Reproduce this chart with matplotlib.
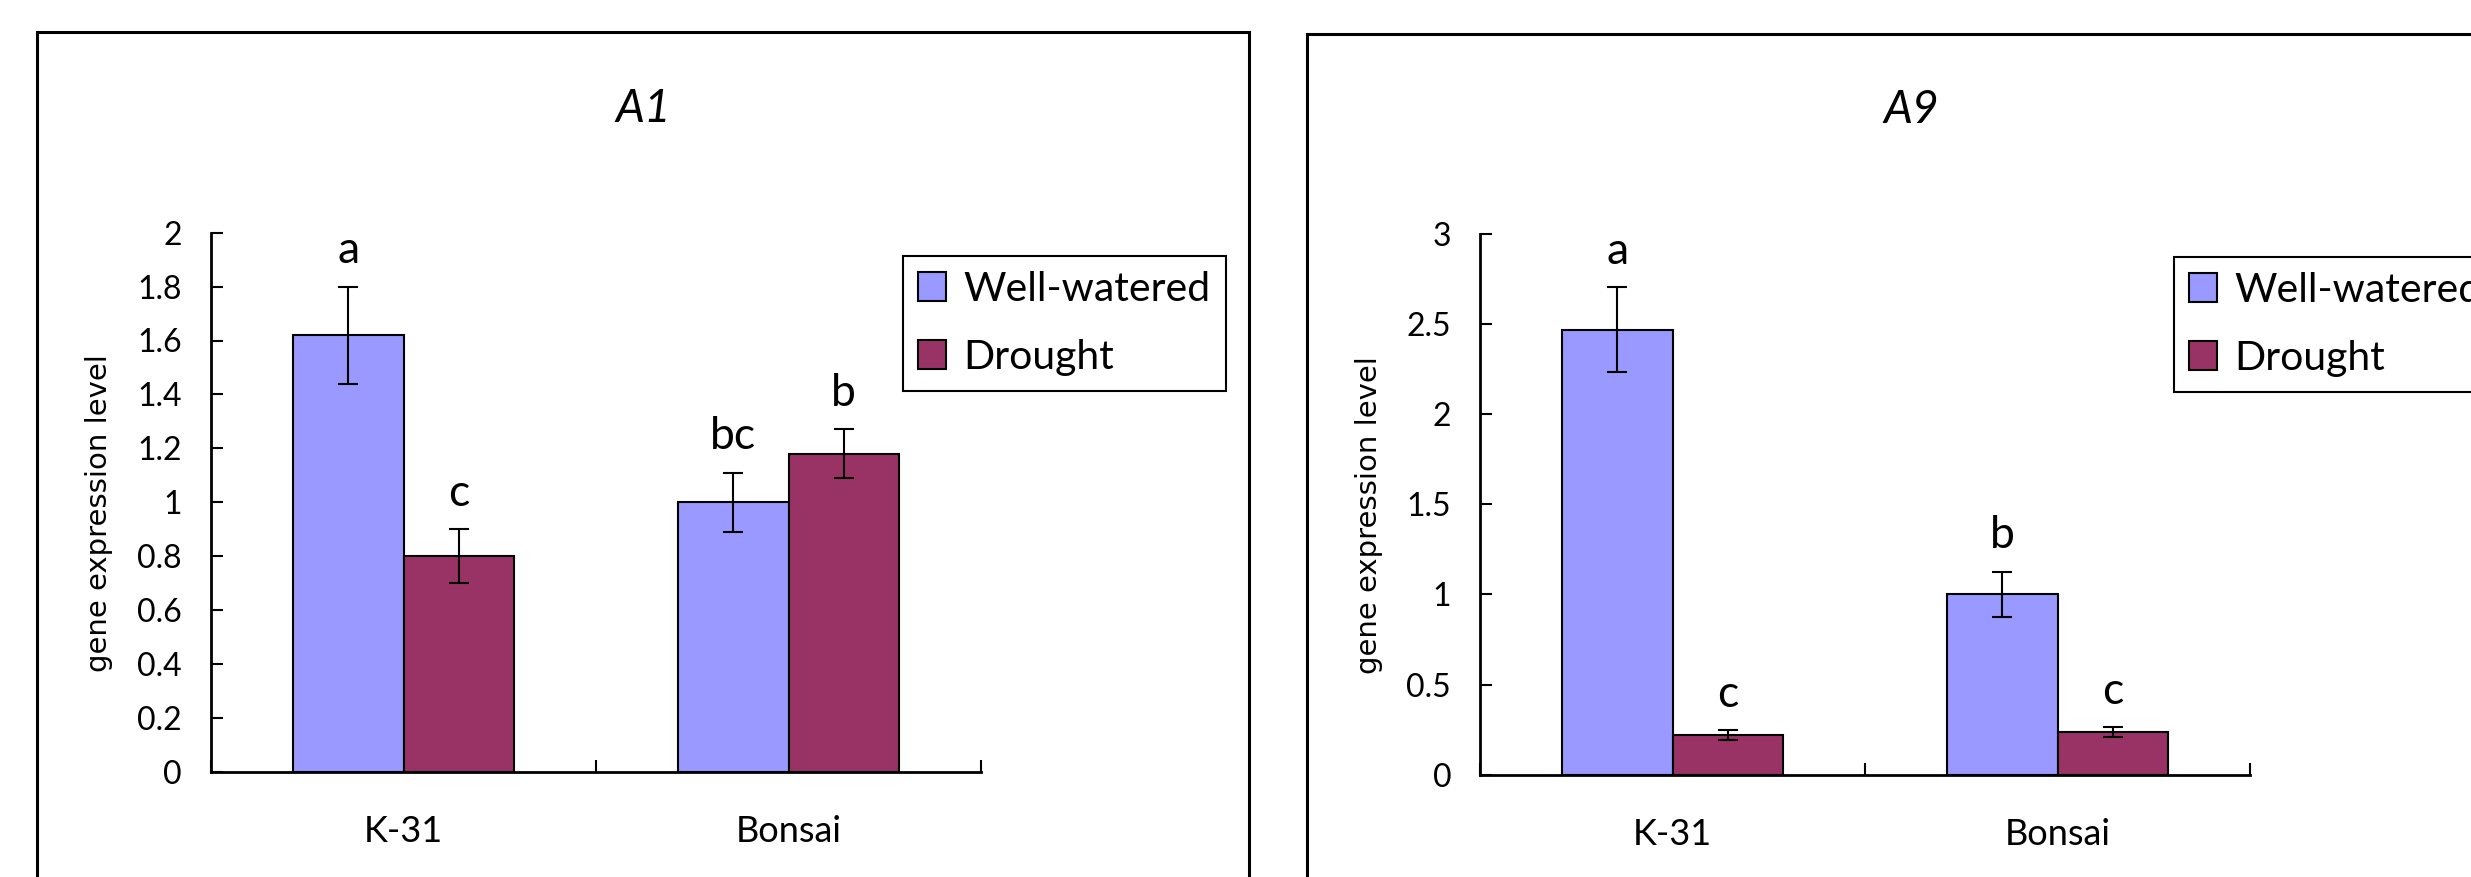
import matplotlib
matplotlib.use("Agg")
import matplotlib.pyplot as plt
from matplotlib.patches import Rectangle, Patch
import numpy as np

# data: relative gene expression, two genes, two cultivars
categories = ["K-31", "Bonsai"]
series_names = ["Well-watered", "Drought"]
series_colors = ["#9999FF", "#993366"]

a1_well = [1.62, 1.00]
a1_well_err = [0.18, 0.11]
a1_drought = [0.80, 1.18]
a1_drought_err = [0.10, 0.09]
a1_well_letters = ["a", "bc"]
a1_drought_letters = ["c", "b"]
a1_yticks = [0, 0.2, 0.4, 0.6, 0.8, 1.0, 1.2, 1.4, 1.6, 1.8, 2.0]

a9_well = [2.47, 1.00]
a9_well_err = [0.235, 0.125]
a9_drought = [0.22, 0.235]
a9_drought_err = [0.027, 0.028]
a9_well_letters = ["a", "b"]
a9_drought_letters = ["c", "c"]
a9_yticks = [0, 0.5, 1.0, 1.5, 2.0, 2.5, 3.0]

plt.rcParams["font.family"] = ["Lato", "DejaVu Sans"]

W, H = 2471, 877
fig = plt.figure(figsize=(W / 100, H / 100), dpi=100)


def px_box(x0, y0, x1, y1):
    # pixel box (top-left origin) -> figure fraction [left, bottom, width, height]
    return [x0 / W, 1 - y1 / H, (x1 - x0) / W, (y1 - y0) / H]


def draw_panel(frame, axbox, title_xy, legend_xy, title,
               well, well_err, drought, drought_err,
               well_letters, drought_letters, yticks):
    # outer frame of the panel
    fx0, fy0, fx1, fy1 = frame
    b = px_box(fx0, fy0, fx1, fy1)
    fig.add_artist(Rectangle((b[0], b[1]), b[2], b[3], transform=fig.transFigure,
                             fill=False, edgecolor="black", linewidth=2.2, clip_on=False))

    fig.text(title_xy[0] / W, 1 - title_xy[1] / H, title, fontsize=33,
             style="italic", ha="center", va="baseline")

    ax = fig.add_axes(px_box(*axbox))
    x = np.arange(len(categories))
    w = 0.287
    for vals, errs, letters, off, color, name in [
        (well, well_err, well_letters, -w / 2, series_colors[0], series_names[0]),
        (drought, drought_err, drought_letters, w / 2, series_colors[1], series_names[1]),
    ]:
        ax.bar(x + off, vals, w, color=color, edgecolor="black", linewidth=1.5,
               label=name, zorder=2)
        ax.errorbar(x + off, vals, yerr=errs, fmt="none", ecolor="black",
                    elinewidth=1.5, capsize=7.5, capthick=1.5, zorder=3)
        for xi, v, e, lab in zip(x + off, vals, errs, letters):
            ax.annotate(lab, (xi, v + e), xytext=(0, 17), textcoords="offset points",
                        ha="center", va="baseline", fontsize=32)

    ax.set_xlim(-0.5, len(categories) - 0.5)
    ax.set_ylim(yticks[0], yticks[-1])
    ax.set_yticks(yticks)
    ax.set_yticklabels(["{:g}".format(t) for t in yticks])
    ax.set_xticks(np.arange(len(categories) + 1) - 0.5)
    ax.set_xticklabels([])
    ax.set_xticks(x, labels=categories, minor=True)
    ax.tick_params(axis="y", direction="in", length=8.6, width=1.5, labelsize=23, pad=21)
    ax.tick_params(axis="x", which="major", direction="in", length=8.6, width=1.5)
    ax.tick_params(axis="x", which="minor", length=0, labelsize=26, pad=31)
    for side in ["top", "right"]:
        ax.spines[side].set_visible(False)
    for side in ["left", "bottom"]:
        ax.spines[side].set_linewidth(2)

    ax.set_ylabel("gene expression level", fontsize=21, family="DejaVu Sans")
    ax.yaxis.set_label_coords(-0.127, 0.48)

    handles = [Patch(facecolor=c, edgecolor="black", linewidth=1.5) for c in series_colors]
    leg = ax.legend(handles, series_names, loc="upper left",
                    bbox_to_anchor=(legend_xy[0] / W, 1 - legend_xy[1] / H),
                    bbox_transform=fig.transFigure, borderaxespad=0,
                    fancybox=False, framealpha=1, edgecolor="black", fontsize=29.5,
                    handlelength=0.7, handleheight=0.7, handletextpad=0.42,
                    labelspacing=0.76, borderpad=0.36)
    leg.get_frame().set_linewidth(1.5)
    return ax


draw_panel((37.3, 32.3, 1249.3, H + 20), (211, 232.7, 981, 771.7), (643, 122), (903, 256),
           "A1", a1_well, a1_well_err, a1_drought, a1_drought_err,
           a1_well_letters, a1_drought_letters, a1_yticks)
draw_panel((1307.3, 34, W + 60, H + 20), (1480.3, 234, 2250, 774.7), (1911, 123), (2174, 257),
           "A9", a9_well, a9_well_err, a9_drought, a9_drought_err,
           a9_well_letters, a9_drought_letters, a9_yticks)

fig.savefig("out.png", dpi=100)
